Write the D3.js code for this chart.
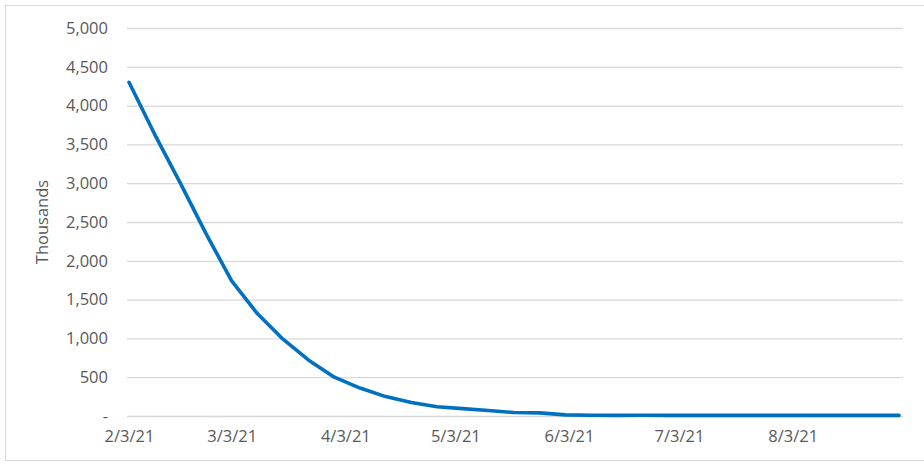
<!DOCTYPE html>
<html>
<head>
<meta charset="utf-8">
<script src="https://cdn.jsdelivr.net/npm/d3@7"></script>
<style>
  body { margin: 0; background: #fff; }
  text { font-family: "Open Sans", "Liberation Sans", Arial, sans-serif; fill: #595959; }
</style>
</head>
<body>
<script>
// Chart size
var svgWidth = 924;
var svgHeight = 464;

// Weekly dates and values (thousands)
var weekDates = ["2021-02-03", "2021-02-10", "2021-02-17", "2021-02-24", "2021-03-03",
  "2021-03-10", "2021-03-17", "2021-03-24", "2021-03-31", "2021-04-07", "2021-04-14",
  "2021-04-21", "2021-04-28", "2021-05-05", "2021-05-12", "2021-05-19", "2021-05-26",
  "2021-06-02", "2021-06-09", "2021-06-16", "2021-06-23", "2021-06-30", "2021-07-07",
  "2021-07-14", "2021-07-21", "2021-07-28", "2021-08-04", "2021-08-11", "2021-08-18",
  "2021-08-25", "2021-09-01"];
var weekValues = [4300, 3630, 3000, 2350, 1740, 1320, 990, 720, 500, 360, 250,
  175, 120, 95, 70, 45, 40, 15, 10, 8, 10, 8, 8, 8, 8, 8, 8, 8, 8, 8, 8];

// Tick labels
var yTicks = [0, 500, 1000, 1500, 2000, 2500, 3000, 3500, 4000, 4500, 5000];
var xTickDates = ["2021-02-03", "2021-03-03", "2021-04-03", "2021-05-03",
  "2021-06-03", "2021-07-03", "2021-08-03"];

var margin = { top: 28, right: 21, bottom: 48, left: 129 };
var chartWidth = svgWidth - margin.left - margin.right;
var chartHeight = svgHeight - margin.top - margin.bottom;

var parseDate = d3.timeParse("%Y-%m-%d");
var data = weekDates.map(function(d, i) {
  return { date: parseDate(d), value: weekValues[i] };
});

var svg = d3.select("body")
  .append("svg")
  .attr("width", svgWidth)
  .attr("height", svgHeight);

// light outer frame
svg.append("rect")
  .attr("x", 5.5)
  .attr("y", 5.5)
  .attr("width", 940)
  .attr("height", 455)
  .attr("fill", "none")
  .attr("stroke", "#d9d9d9")
  .attr("stroke-width", 1);

var chartGroup = svg.append("g")
  .attr("transform", `translate(${margin.left}, ${margin.top})`);

var xScale = d3.scaleTime()
  .domain([parseDate(weekDates[0]), parseDate(weekDates[weekDates.length - 1])])
  .range([0, chartWidth - 4]);

var yScale = d3.scaleLinear()
  .domain([0, 5000])
  .range([chartHeight, 0]);

// gridlines + y labels
var leftAxis = d3.axisLeft(yScale)
  .tickValues(yTicks)
  .tickSize(-(chartWidth + 2))
  .tickPadding(19)
  .tickFormat(function(d) { return d === 0 ? "-" : d3.format(",")(d); });

var yAxisG = chartGroup.append("g")
  .attr("transform", "translate(-2,0)")
  .call(leftAxis);
yAxisG.select(".domain").remove();
yAxisG.selectAll("line")
  .attr("stroke", "#d9d9d9")
  .attr("stroke-width", 1.3);
yAxisG.selectAll("text")
  .attr("font-size", "16.5px")
  .attr("fill", "#595959");

// x axis labels
var bottomAxis = d3.axisBottom(xScale)
  .tickValues(xTickDates.map(parseDate))
  .tickSize(0)
  .tickPadding(14)
  .tickFormat(d3.timeFormat("%-m/%-d/%y"));

var xAxisG = chartGroup.append("g")
  .attr("transform", `translate(0, ${chartHeight})`)
  .call(bottomAxis);
xAxisG.select(".domain").remove();
xAxisG.selectAll("text")
  .attr("font-size", "16.5px")
  .attr("fill", "#595959");

// y axis title
svg.append("text")
  .attr("transform", "translate(48, 222) rotate(-90)")
  .attr("text-anchor", "middle")
  .attr("font-size", "16.5px")
  .text("Thousands");

// line
var line = d3.line()
  .x(function(d) { return xScale(d.date); })
  .y(function(d) { return yScale(d.value); });

chartGroup.append("path")
  .datum(data)
  .attr("fill", "none")
  .attr("stroke", "#0070c0")
  .attr("stroke-width", 3.6)
  .attr("stroke-linejoin", "round")
  .attr("stroke-linecap", "round")
  .attr("d", line);
</script>
</body>
</html>
